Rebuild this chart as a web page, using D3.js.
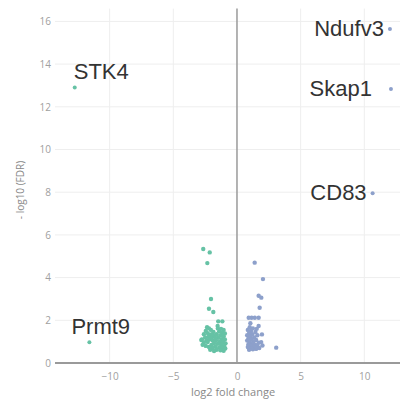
<!DOCTYPE html>
<html>
<head>
<meta charset="utf-8">
<script src="https://cdn.jsdelivr.net/npm/d3@7"></script>
<style>
  html, body { margin: 0; padding: 0; background: #fff; }
  svg { display: block; }
</style>
</head>
<body>
<svg id="chart" width="406" height="403"></svg>
<script>
// ---- data ----
const downPoints = [
  [-2.65,5.34],[-2.14,5.18],[-2.33,4.68],[-2.04,3.0],[-2.2,2.54],[-1.86,2.39],
  [-1.47,1.95],[-1.15,1.95],[-1.52,1.73],
  [-2.35,1.68],[-2.2,1.62],[-2.45,1.5],[-2.05,1.55],[-2.3,1.4],[-2.6,1.35],[-2.1,1.32],
  [-2.5,1.2],[-2.25,1.22],[-2.75,1.1],[-2.4,1.05],[-2.6,0.95],[-2.15,1.1],[-2.0,1.2],
  [-2.3,0.98],[-2.7,0.85],[-2.45,0.8],
  [-1.5,1.62],[-1.25,1.6],[-1.05,1.55],[-1.4,1.48],[-1.15,1.42],[-0.95,1.38],[-1.6,1.35],
  [-1.3,1.3],[-1.05,1.25],[-1.45,1.18],[-1.2,1.12],[-0.95,1.1],[-1.65,1.05],[-1.35,1.0],
  [-1.1,0.98],[-0.9,0.92],[-1.5,0.9],[-1.25,0.85],[-1.0,0.8],[-1.7,0.78],[-1.4,0.72],
  [-1.15,0.7],[-0.92,0.68],[-1.9,0.7],[-1.6,0.62],[-1.3,0.6],[-1.05,0.57],[-2.1,0.62],
  [-1.8,0.56],
  [-1.85,1.45],[-1.75,1.25],[-1.9,1.05],[-1.8,0.92],[-2.0,0.85],[-1.7,1.15],[-1.95,1.35],
  [-2.2,0.75],[-2.8,1.08],[-2.12,0.73]
];
const upPoints = [
  [1.39,4.70],[2.04,3.93],[1.70,3.15],[1.91,3.06],[1.78,2.59],
  [0.92,2.12],[1.15,2.12],[1.4,2.12],[1.70,2.12],[1.05,1.86],[1.70,1.73],[1.96,1.34],
  [3.08,0.72],[1.55,1.6],
  [1.0,1.68],[1.25,1.62],[0.85,1.55],[1.1,1.5],[1.45,1.45],[0.95,1.4],[1.2,1.35],
  [0.8,1.3],[1.6,1.3],[1.05,1.25],[1.35,1.2],[0.9,1.15],[1.15,1.1],[1.5,1.08],
  [0.8,1.05],[1.3,1.0],[1.0,0.98],[1.7,0.95],[1.9,0.98],[1.2,0.9],[0.9,0.88],
  [1.45,0.85],[1.1,0.8],[2.0,0.82],[1.3,0.75],[0.85,0.75],[1.6,0.8],[1.05,0.68],
  [1.25,0.64],[0.95,0.62],[1.5,0.66],[1.75,0.7]
];
const labeledGenes = ["STK4", "Prmt9", "Ndufv3", "Skap1", "CD83"];
const labeledFC    = [-12.74, -11.59, 12.01, 12.09, 10.65];
const labeledFDR   = [12.91, 0.97, 15.64, 12.83, 7.95];
const xTicks = [-10, -5, 0, 5, 10];
const yTicks = [0, 2, 4, 6, 8, 10, 12, 14, 16];

// ---- layout ----
const svg = d3.select("#chart");
const W = 406, H = 403;
const mLeft = 55, mRight = 400, mTop = 8.6, mBottom = 363;
const x = d3.scaleLinear().domain([-14.29, 12.8]).range([mLeft, mRight]);
const y = d3.scaleLinear().domain([0, 16.6]).range([mBottom, mTop]);
const green = "#66c2a5", blue = "#8da0cb";

svg.append("rect").attr("width", W).attr("height", H).attr("fill", "#fff");

// gridlines
svg.append("g").selectAll("line").data(xTicks.filter(d => d !== 0)).join("line")
  .attr("x1", d => x(d)).attr("x2", d => x(d))
  .attr("y1", mTop).attr("y2", mBottom)
  .attr("stroke", "#eeeeee").attr("stroke-width", 1);
svg.append("g").selectAll("line").data(yTicks.filter(d => d !== 0)).join("line")
  .attr("x1", mLeft).attr("x2", mRight)
  .attr("y1", d => y(d)).attr("y2", d => y(d))
  .attr("stroke", "#eeeeee").attr("stroke-width", 1);

// zero lines
svg.append("line").attr("x1", x(0)).attr("x2", x(0)).attr("y1", mTop).attr("y2", mBottom)
  .attr("stroke", "#9a9a9a").attr("stroke-width", 1.5);
svg.append("line").attr("x1", mLeft).attr("x2", mRight).attr("y1", y(0)).attr("y2", y(0))
  .attr("stroke", "#9a9a9a").attr("stroke-width", 2);

// axes (tick labels only)
const xAxis = d3.axisBottom(x).tickValues(xTicks).tickSize(0).tickPadding(10)
  .tickFormat(d => d < 0 ? "\u2212" + Math.abs(d) : String(d));
const gx = svg.append("g").attr("transform", `translate(0,${mBottom})`).call(xAxis);
gx.select(".domain").remove();
gx.selectAll("text").attr("fill", "#a0a0a0").style("font-family", "Open Sans").style("font-size", "10px");

const yAxis = d3.axisLeft(y).tickValues(yTicks).tickSize(0).tickPadding(4);
const gy = svg.append("g").attr("transform", `translate(${mLeft},0)`).call(yAxis);
gy.select(".domain").remove();
gy.selectAll("text").attr("fill", "#a0a0a0").style("font-family", "Open Sans").style("font-size", "10px");

// axis titles
svg.append("text").attr("x", 233).attr("y", 396).attr("text-anchor", "middle")
  .attr("fill", "#888").style("font-family", "Open Sans").style("font-size", "11px")
  .text("log2 fold change");
svg.append("text").attr("transform", "translate(24,190) rotate(-90)").attr("text-anchor", "middle")
  .attr("fill", "#888").style("font-family", "Open Sans").style("font-size", "10px")
  .text("- log10 (FDR)");

// points
const r = 2.2;
svg.append("g").selectAll("circle").data(downPoints).join("circle")
  .attr("cx", d => x(d[0])).attr("cy", d => y(d[1])).attr("r", r).attr("fill", green);
svg.append("g").selectAll("circle").data(upPoints).join("circle")
  .attr("cx", d => x(d[0])).attr("cy", d => y(d[1])).attr("r", r).attr("fill", blue);

const labeled = labeledGenes.map((g, i) => ({ gene: g, fc: labeledFC[i], fdr: labeledFDR[i] }));
svg.append("g").selectAll("circle").data(labeled).join("circle")
  .attr("cx", d => x(d.fc)).attr("cy", d => y(d.fdr)).attr("r", 2)
  .attr("fill", d => d.fc < 0 ? green : blue);

// labels: left-side genes sit above-right of their point, right-side genes to the left
svg.append("g").selectAll("text").data(labeled).join("text")
  .attr("x", d => d.fc < 0 ? x(d.fc) + (d.gene === "STK4" ? -1 : -18) : x(d.fc) - (d.gene === "Skap1" ? 19 : 6))
  .attr("y", d => d.fc < 0 ? y(d.fdr) - 8 : y(d.fdr) + 7)
  .attr("text-anchor", d => d.fc < 0 ? "start" : "end")
  .attr("fill", "#333")
  .style("font-family", "Liberation Sans, Arial, sans-serif")
  .style("font-size", "22px")
  .text(d => d.gene);
</script>
</body>
</html>
